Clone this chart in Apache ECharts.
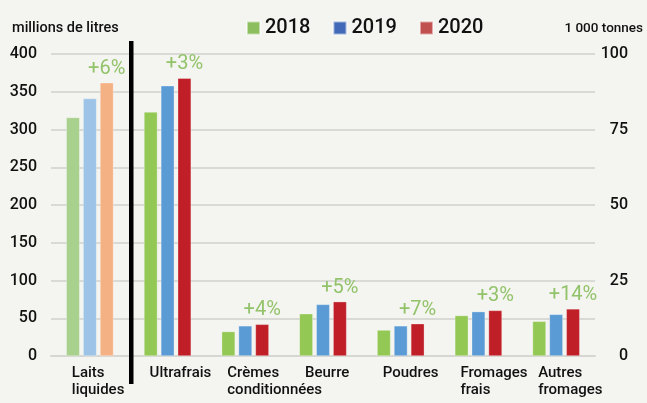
<!DOCTYPE html>
<html>
<head>
<meta charset="utf-8">
<script src="https://cdn.jsdelivr.net/npm/echarts@6/dist/echarts.min.js"></script>
<style>
  html, body { margin: 0; padding: 0; background: #f4f4f0; }
  #chart { width: 647px; height: 403px; }
</style>
</head>
<body>
<div id="chart"></div>
<script>
// catégories (la 1re en millions de litres, les autres en 1 000 tonnes)
const categories = ['Laits\nliquides', 'Ultrafrais', 'Crèmes\nconditionnées', 'Beurre', 'Poudres', 'Fromages\nfrais', 'Autres\nfromages']
const years = ['2018', '2019', '2020']

// Laits liquides, axe de gauche (millions de litres)
const laits2018 = [316]
const laits2019 = [341]
const laits2020 = [362]

// autres produits, axe de droite (1 000 tonnes)
const tonnes2018 = [80.8, 8.1, 14.0, 8.6, 13.4, 11.5]
const tonnes2019 = [89.5, 10.0, 17.1, 10.0, 14.7, 13.8]
const tonnes2020 = [92.0, 10.5, 18.0, 10.7, 15.1, 15.6]

// évolution 2020/2019
const growthLabels = ['+6%', '+3%', '+4%', '+5%', '+7%', '+3%', '+14%']

const leftTicks = [0, 400, 50]
const rightTicks = [0, 100, 25]

const FONT = 'Roboto, "Liberation Sans", sans-serif'

const lightColors = ['#a9d18e', '#9dc3e6', '#f4b183']
const darkColors = ['#92c853', '#5b9bd5', '#c01f28']
const legendColors = ['#8cbd5e', '#4169b8', '#c0504f']

const chart = echarts.init(document.getElementById('chart'))

const growthLabel = {
  show: true,
  position: 'top',
  distance: 4,
  color: '#92c36a',
  fontFamily: FONT,
  fontSize: 20,
  formatter: p => growthLabels[p.dataIndex]
}

// une série par année et par axe, empilées pour partager la même colonne
function leftSeries(i, values) {
  return {
    name: years[i],
    type: 'bar',
    stack: 's' + years[i],
    yAxisIndex: 0,
    barWidth: 13.5,
    barGap: '25%',
    itemStyle: { color: lightColors[i], borderColor: 'rgba(255,255,255,0.5)', borderWidth: 0.6 },
    label: i === 2 ? growthLabel : { show: false },
    data: values.concat(tonnes2018.map(() => '-'))
  }
}

function rightSeries(i, values) {
  return {
    name: years[i],
    type: 'bar',
    stack: 's' + years[i],
    yAxisIndex: 1,
    barWidth: 13.5,
    barGap: '25%',
    itemStyle: { color: darkColors[i], borderColor: 'rgba(255,255,255,0.5)', borderWidth: 0.6 },
    label: i === 2 ? growthLabel : { show: false },
    data: ['-'].concat(values)
  }
}

const option = {
  backgroundColor: '#f4f4f0',
  animation: false,
  textStyle: { fontFamily: FONT },
  legend: {
    left: 241,
    top: 13,
    itemWidth: 13,
    itemHeight: 13,
    itemGap: 22,
    icon: 'rect',
    textStyle: { fontFamily: FONT, fontSize: 20, fontWeight: 500, color: '#111' },
    data: years.map((y, i) => ({ name: y, itemStyle: { color: legendColors[i] } }))
  },
  grid: { left: 51, right: 52, top: 54, bottom: 47 },
  xAxis: {
    type: 'category',
    data: categories,
    axisLine: { lineStyle: { color: '#d6d6d2', width: 2 } },
    axisTick: { show: false },
    axisLabel: {
      interval: 0,
      margin: 9,
      align: 'left',
      padding: [0, 0, 0, -18],
      color: '#111',
      fontFamily: FONT,
      fontWeight: 500,
      fontSize: 15,
      lineHeight: 17
    }
  },
  yAxis: [
    {
      type: 'value',
      min: leftTicks[0],
      max: leftTicks[1],
      interval: leftTicks[2],
      name: 'millions de litres',
      nameLocation: 'end',
      nameGap: 18,
      nameTextStyle: { align: 'left', padding: [0, 0, 0, -39], color: '#111', fontFamily: FONT, fontWeight: 500, fontSize: 14.5 },
      axisLine: { show: false },
      axisTick: { show: false },
      axisLabel: { margin: 14, color: '#111', fontFamily: FONT, fontWeight: 500, fontSize: 16 },
      splitLine: { lineStyle: { color: '#d9d9d5', width: 2 } }
    },
    {
      type: 'value',
      min: rightTicks[0],
      max: rightTicks[1],
      interval: rightTicks[2],
      name: '1 000 tonnes',
      nameLocation: 'end',
      nameGap: 18,
      nameTextStyle: { align: 'right', padding: [0, -48, 0, 0], color: '#111', fontFamily: FONT, fontWeight: 500, fontSize: 13.5 },
      axisLine: { show: false },
      axisTick: { show: false },
      axisLabel: { margin: 33, align: 'right', color: '#111', fontFamily: FONT, fontWeight: 500, fontSize: 16 },
      splitLine: { show: false }
    }
  ],
  series: [
    leftSeries(0, laits2018),
    leftSeries(1, laits2019),
    leftSeries(2, laits2020),
    rightSeries(0, tonnes2018),
    rightSeries(1, tonnes2019),
    rightSeries(2, tonnes2020)
  ],
  graphic: [
    {
      type: 'rect',
      shape: { x: 129, y: 41, width: 4.5, height: 343 },
      style: { fill: '#000' },
      z: 10
    }
  ]
}

chart.setOption(option)
</script>
</body>
</html>
